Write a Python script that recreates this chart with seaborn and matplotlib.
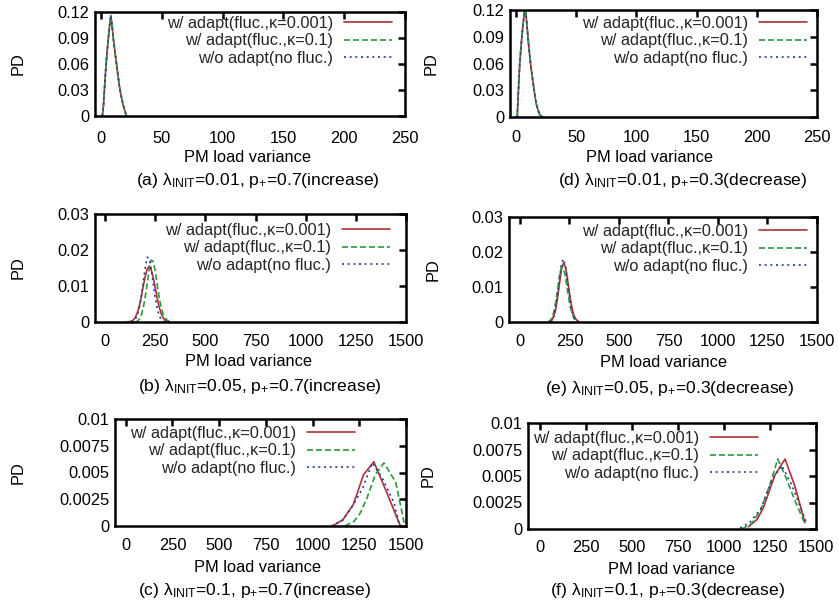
import matplotlib
matplotlib.use("Agg")
import matplotlib.pyplot as plt
import seaborn as sns
from matplotlib.ticker import MultipleLocator, FuncFormatter

sns.set_theme(style="white")
plt.rcParams['font.family'] = ['Liberation Sans', 'DejaVu Sans']
plt.rcParams['mathtext.fontset'] = 'custom'
plt.rcParams['mathtext.rm'] = 'Liberation Sans'
plt.rcParams['mathtext.it'] = 'Liberation Sans:italic'
plt.rcParams['mathtext.default'] = 'regular'

FS = 11.8
CFS = 12.6

# ---------------- data ----------------
series_labels = ["w/ adapt(fluc.,κ=0.001)", "w/ adapt(fluc.,κ=0.1)", "w/o adapt(no fluc.)"]
xlabel = "PM load variance"
ylabel = "PD"
captions = [
    r"(a) λ$_{\mathrm{INIT}}$=0.01, p$_{+}$=0.7(increase)",
    r"(b) λ$_{\mathrm{INIT}}$=0.05, p$_{+}$=0.7(increase)",
    r"(c) λ$_{\mathrm{INIT}}$=0.1, p$_{+}$=0.7(increase)",
    r"(d) λ$_{\mathrm{INIT}}$=0.01, p$_{+}$=0.3(decrease)",
    r"(e) λ$_{\mathrm{INIT}}$=0.05, p$_{+}$=0.3(decrease)",
    r"(f) λ$_{\mathrm{INIT}}$=0.1, p$_{+}$=0.3(decrease)",
]

# (a) lambda=0.01, p=0.7
a_x = list(range(1, 22))
a_red = [0.0, 0.0125, 0.036, 0.057, 0.074, 0.090, 0.104, 0.116, 0.105, 0.090, 0.079,
         0.068, 0.057, 0.046, 0.035, 0.027, 0.020, 0.014, 0.009, 0.004, 0.0]
a_green = [0.0, 0.012, 0.035, 0.057, 0.075, 0.091, 0.105, 0.115, 0.106, 0.091, 0.078,
           0.067, 0.057, 0.046, 0.036, 0.027, 0.020, 0.013, 0.008, 0.004, 0.0]
a_blue = [0.0, 0.013, 0.036, 0.058, 0.074, 0.090, 0.104, 0.116, 0.105, 0.090, 0.079,
          0.068, 0.056, 0.045, 0.035, 0.027, 0.019, 0.014, 0.009, 0.004, 0.0]

# (d) lambda=0.01, p=0.3
d_x = list(range(1, 23))
d_red = [0.0, 0.030, 0.058, 0.076, 0.092, 0.106, 0.118, 0.120, 0.104, 0.088, 0.074,
         0.061, 0.050, 0.040, 0.030, 0.021, 0.014, 0.009, 0.005, 0.002, 0.001, 0.0]
d_green = [0.0, 0.029, 0.057, 0.076, 0.093, 0.107, 0.117, 0.119, 0.105, 0.089, 0.074,
           0.060, 0.050, 0.040, 0.031, 0.022, 0.014, 0.009, 0.005, 0.002, 0.001, 0.0]
d_blue = [0.0, 0.031, 0.058, 0.075, 0.092, 0.106, 0.118, 0.120, 0.104, 0.088, 0.073,
          0.061, 0.051, 0.040, 0.030, 0.021, 0.015, 0.009, 0.005, 0.002, 0.001, 0.0]

# (b) lambda=0.05, p=0.7
b_red_x = list(range(110, 330, 10))
b_red = [0.0, 0.0001, 0.0002, 0.0005, 0.0012, 0.0024, 0.0042, 0.0068, 0.0098, 0.0126, 0.0147,
         0.0155, 0.0146, 0.0124, 0.0096, 0.0066, 0.0041, 0.0023, 0.0011, 0.0005, 0.0001, 0.0]
b_green_x = list(range(150, 340, 10))
b_green = [0.0, 0.0002, 0.0007, 0.0018, 0.0038, 0.0068, 0.0106, 0.0146, 0.0172, 0.0168,
           0.0142, 0.0104, 0.0068, 0.0040, 0.0021, 0.0011, 0.0005, 0.0002, 0.0]
b_blue_x = list(range(130, 310, 10))
b_blue = [0.0, 0.0002, 0.0007, 0.0018, 0.0038, 0.0068, 0.0108, 0.0150, 0.0180, 0.0176,
          0.0148, 0.0108, 0.0068, 0.0037, 0.0017, 0.0007, 0.0002, 0.0]

# (e) lambda=0.05, p=0.3
e_red_x = list(range(150, 310, 10))
e_red = [0.0, 0.0004, 0.0014, 0.0034, 0.0068, 0.0110, 0.0150, 0.0168, 0.0158, 0.0124,
         0.0084, 0.0048, 0.0024, 0.0010, 0.0004, 0.0]
e_green_x = list(range(140, 300, 10))
e_green = [0.0, 0.0003, 0.0010, 0.0026, 0.0054, 0.0092, 0.0132, 0.0158, 0.0154, 0.0128,
           0.0092, 0.0056, 0.0030, 0.0014, 0.0005, 0.0]
e_blue_x = list(range(150, 310, 10))
e_blue = [0.0, 0.0005, 0.0016, 0.0040, 0.0078, 0.0124, 0.0166, 0.0180, 0.0160, 0.0118,
          0.0074, 0.0038, 0.0016, 0.0006, 0.0002, 0.0]

# (c) lambda=0.1, p=0.7
c_red_x = [1107, 1163, 1218, 1273, 1328, 1400, 1470]
c_red = [0.0, 0.0006, 0.0020, 0.0048, 0.0060, 0.0030, 0.0]
c_green_x = [1173, 1220, 1255, 1291, 1336, 1382, 1445, 1490]
c_green = [0.0, 0.0004, 0.0012, 0.0026, 0.0048, 0.0059, 0.0041, 0.0003]
c_blue_x = [1100, 1160, 1215, 1270, 1300, 1320, 1375, 1435, 1462]
c_blue = [0.0, 0.0005, 0.0019, 0.0036, 0.0050, 0.0059, 0.0044, 0.0022, 0.0003]

# (f) lambda=0.1, p=0.3
f_red_x = [1132, 1180, 1214, 1277, 1332, 1386, 1440]
f_red = [0.0002, 0.0009, 0.0020, 0.0051, 0.0066, 0.0040, 0.0006]
f_green_x = [1096, 1150, 1200, 1250, 1292, 1340, 1390, 1440]
f_green = [0.0, 0.0005, 0.0018, 0.0042, 0.0066, 0.0047, 0.0025, 0.0005]
f_blue_x = [1087, 1140, 1200, 1260, 1313, 1370, 1410, 1450]
f_blue = [0.0001, 0.0006, 0.0019, 0.0046, 0.0060, 0.0041, 0.0023, 0.0005]

# ---------------- style / layout ----------------
colors = ["#b0303a", "#2a9a3a", "#2a3a9a"]
styles = ["-", (0, (3.6, 1.8)), (0, (1.2, 2.2))]

W, H = 839, 604
fig = plt.figure(figsize=(W / 100, H / 100), dpi=100)

panels = [
    dict(box=(95, 12, 405, 116), xlim=(-5, 250), xstep=50, ylim=(0, 0.12), ystep=0.03,
         series=[(a_x, a_red), (a_x, a_green), (a_x, a_blue)], xpad=11,
         leg=(392, 16), ylab_x=18, xlab=(248, 157), cap=(258, 180)),
    dict(box=(95, 214, 406, 322), xlim=(-50, 1500), xstep=250, ylim=(0, 0.03), ystep=0.01,
         series=[(b_red_x, b_red), (b_green_x, b_green), (b_blue_x, b_blue)], xpad=9,
         leg=(390, 223), ylab_x=18, xlab=(249, 362), cap=(260, 387)),
    dict(box=(115, 419, 406, 526), xlim=(-57, 1500), xstep=250, ylim=(0, 0.01), ystep=0.0025,
         series=[(c_red_x, c_red), (c_green_x, c_green), (c_blue_x, c_blue)], xpad=9,
         leg=(355, 426), ylab_x=18, xlab=(258, 567), cap=(254, 590)),
    dict(box=(510, 10, 817, 117), xlim=(-5, 250), xstep=50, ylim=(0, 0.12), ystep=0.03,
         series=[(d_x, d_red), (d_x, d_green), (d_x, d_blue)], xpad=9,
         leg=(807, 16), ylab_x=431, xlab=(649, 158), cap=(683, 180)),
    dict(box=(509, 217, 817, 322), xlim=(-55, 1500), xstep=250, ylim=(0, 0.03), ystep=0.01,
         series=[(e_red_x, e_red), (e_green_x, e_green), (e_blue_x, e_blue)], xpad=9,
         leg=(807, 224), ylab_x=433, xlab=(663, 363), cap=(670, 388)),
    dict(box=(528, 423, 816, 529), xlim=(-65, 1500), xstep=250, ylim=(0, 0.01), ystep=0.0025,
         series=[(f_red_x, f_red), (f_green_x, f_green), (f_blue_x, f_blue)], xpad=8,
         leg=(758, 431), ylab_x=428, xlab=(672, 570), cap=(667, 590)),
]

fmt = FuncFormatter(lambda v, p: f"{v:g}")

for p, cap in zip(panels, captions):
    l, t, r, b = p["box"]
    ax = fig.add_axes([l / W, 1 - b / H, (r - l) / W, (b - t) / H])
    for (xs, ys), c, ls, lab in zip(p["series"], colors, styles, series_labels):
        sns.lineplot(x=xs, y=ys, ax=ax, color=c, linestyle=ls, linewidth=1.2,
                     label=lab, sort=False, estimator=None)
    ax.set_xlim(*p["xlim"])
    ax.set_ylim(*p["ylim"])
    ax.xaxis.set_major_locator(MultipleLocator(p["xstep"]))
    ax.yaxis.set_major_locator(MultipleLocator(p["ystep"]))
    ax.xaxis.set_major_formatter(fmt)
    ax.yaxis.set_major_formatter(fmt)
    ax.tick_params(direction="in", length=5, width=1.8, top=True, right=True,
                   labelsize=FS, colors="black")
    ax.tick_params(axis="y", pad=4)
    ax.tick_params(axis="x", pad=p["xpad"])
    for s in ax.spines.values():
        s.set_linewidth(1.8)
        s.set_color("black")
        s.set_visible(True)
    ax.set_facecolor("white")
    ax.grid(False)
    ax.set_xlabel(xlabel, fontsize=FS, color="black")
    ax.set_ylabel(ylabel, fontsize=FS, color="black")
    lx, ly = p["xlab"]
    ax.xaxis.set_label_coords((lx - l) / (r - l), (b - ly) / (b - t))
    ax.xaxis.label.set_va("center")
    ax.yaxis.set_label_coords((p["ylab_x"] - l) / (r - l), 0.5)
    ax.yaxis.label.set_va("center")
    hx, ty = p["leg"]
    ax.legend(loc="upper right", bbox_to_anchor=(hx / W, 1 - ty / H),
              bbox_transform=fig.transFigure, markerfirst=False, frameon=False,
              fontsize=FS, handlelength=2.9, handletextpad=0.7, labelspacing=0.15,
              borderpad=0, borderaxespad=0)
    cx, cy = p["cap"]
    fig.text(cx / W, 1 - cy / H, cap, ha="center", va="center", fontsize=CFS, color="black")

fig.savefig("out.png", dpi=100)
